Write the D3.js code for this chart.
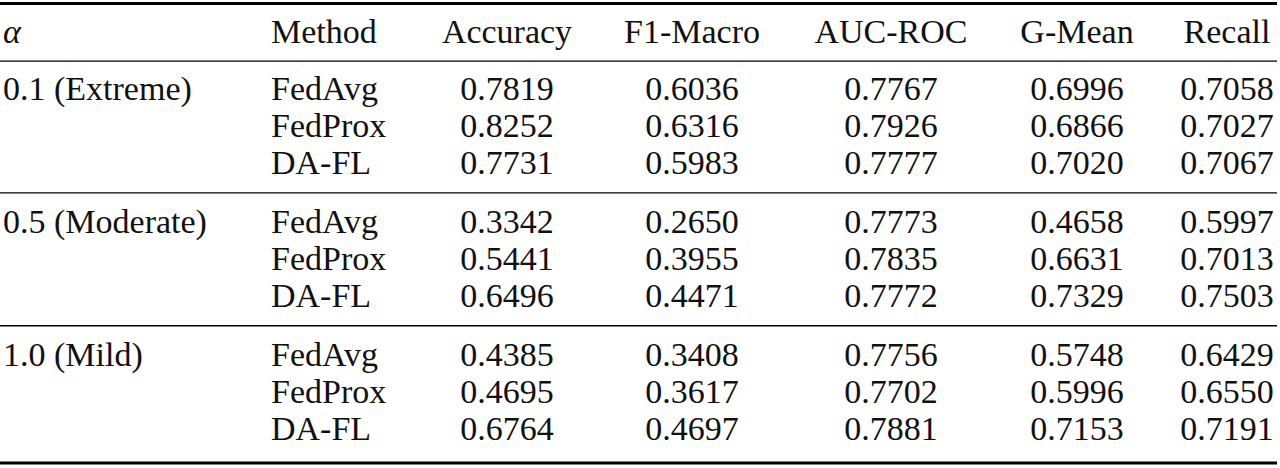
<!DOCTYPE html>
<html>
<head>
<meta charset="utf-8">
<script src="https://cdn.jsdelivr.net/npm/d3@7"></script>
<style>
  body { margin: 0; background: #fff; }
  svg { display: block; }
</style>
</head>
<body>
<svg id="table" width="1280" height="468"></svg>
<script>
const headers = ['α', 'Method', 'Accuracy', 'F1-Macro', 'AUC-ROC', 'G-Mean', 'Recall'];
const metrics = ['Accuracy', 'F1-Macro', 'AUC-ROC', 'G-Mean', 'Recall'];
const alphas = ['0.1 (Extreme)', '0.5 (Moderate)', '1.0 (Mild)'];
const methods = ['FedAvg', 'FedProx', 'DA-FL'];

// one array per alpha group, rows = methods, cols = metrics
const extremeVals = [
  [0.7819, 0.6036, 0.7767, 0.6996, 0.7058],
  [0.8252, 0.6316, 0.7926, 0.6866, 0.7027],
  [0.7731, 0.5983, 0.7777, 0.7020, 0.7067]
];
const moderateVals = [
  [0.3342, 0.2650, 0.7773, 0.4658, 0.5997],
  [0.5441, 0.3955, 0.7835, 0.6631, 0.7013],
  [0.6496, 0.4471, 0.7772, 0.7329, 0.7503]
];
const mildVals = [
  [0.4385, 0.3408, 0.7756, 0.5748, 0.6429],
  [0.4695, 0.3617, 0.7702, 0.5996, 0.6550],
  [0.6764, 0.4697, 0.7881, 0.7153, 0.7191]
];
const groupVals = [extremeVals, moderateVals, mildVals];

const svg = d3.select('#table');
const FONT = '"Liberation Serif", "Times New Roman", serif';
const INK = '#111';

// columns: first two left aligned, metrics centred
const xCol = d3.scaleOrdinal()
  .domain(headers)
  .range([3, 271, 507, 692, 891, 1077, 1227]);
const anchor = h => (h === 'α' || h === 'Method') ? 'start' : 'middle';

// vertical position in "row units"; one group = 3 rows + rule gap
const GROUP = 3.59;
const y = d3.scaleLinear().domain([0, 1]).range([100, 137]);
const rowPos = (g, i) => g * GROUP + i;

// rules: top, header, between groups, bottom
const rules = [
  { u: -2.61, w: 3 },
  { u: -1.05, w: 1.4 },
  { u: 2.51, w: 1.4 },
  { u: 6.1, w: 1.4 },
  { u: 9.81, w: 3 }
];
svg.selectAll('line.rule').data(rules)
  .enter().append('line')
  .attr('class', 'rule')
  .attr('x1', 0)
  .attr('x2', 1277)
  .attr('y1', d => y(d.u))
  .attr('y2', d => y(d.u))
  .attr('stroke', '#000')
  .attr('stroke-width', d => d.w);

// header
svg.selectAll('text.head').data(headers)
  .enter().append('text')
  .attr('class', 'head')
  .attr('x', d => xCol(d))
  .attr('y', y(-1.54))
  .attr('text-anchor', d => anchor(d))
  .style('font-style', d => d === 'α' ? 'italic' : 'normal')
  .text(d => d);

// body cells
const cells = [];
groupVals.forEach((vals, g) => {
  cells.push({ col: 'α', pos: rowPos(g, 0), text: alphas[g] });
  methods.forEach((m, i) => {
    cells.push({ col: 'Method', pos: rowPos(g, i), text: m });
    metrics.forEach((k, j) => {
      cells.push({ col: k, pos: rowPos(g, i), text: vals[i][j].toFixed(4) });
    });
  });
});

svg.selectAll('text.cell').data(cells)
  .enter().append('text')
  .attr('class', 'cell')
  .attr('x', d => xCol(d.col))
  .attr('y', d => y(d.pos))
  .attr('text-anchor', d => anchor(d.col))
  .text(d => d.text);

svg.selectAll('text')
  .style('font-family', FONT)
  .style('font-size', '34px')
  .attr('fill', INK);
</script>
</body>
</html>
